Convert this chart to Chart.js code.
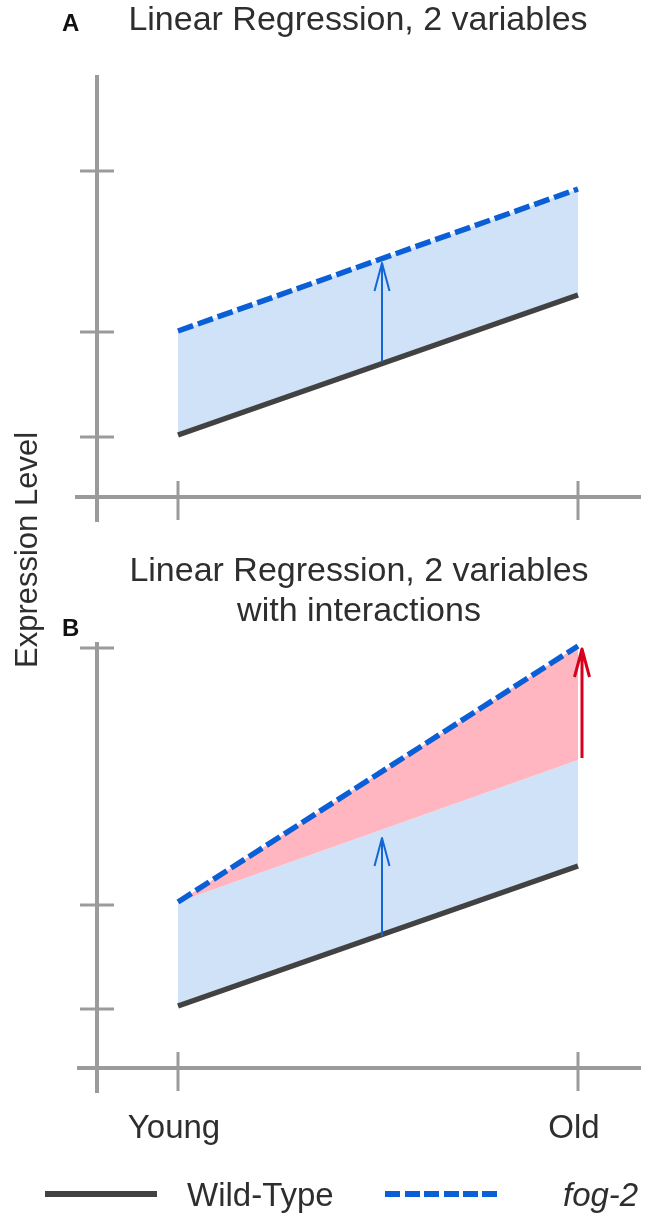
<!DOCTYPE html>
<html>
<head>
<meta charset="utf-8">
<script src="https://cdn.jsdelivr.net/npm/chart.js@4.4.1/dist/chart.umd.min.js"></script>
<style>
  body { margin: 0; background: #fff; }
  #page { position: relative; width: 662px; height: 1214px; overflow: hidden;
          font-family: "Liberation Sans", Arial, sans-serif; color: #2e2e2e; }
  #page canvas { position: absolute; left: 0; }
  .txt { position: absolute; line-height: 1; white-space: nowrap; }
  .panel { font-size: 24px; font-weight: bold; color: #111; }
  .legend-text { font-size: 33px; }
  .swatch { position: absolute; height: 6px; width: 112px; }
</style>
</head>
<body>
<div id="page">
  <canvas id="chartA" width="662" height="540" style="top:0"></canvas>
  <canvas id="chartB" width="662" height="674" style="top:540px"></canvas>

  <div class="txt panel" style="left:62px; top:11px">A</div>
  <div class="txt panel" style="left:62px; top:616px">B</div>
  <div class="txt" id="yLabel" style="left:26px; top:550px; font-size:31px; transform:translate(-50%,-50%) rotate(-90deg)">Expression Level</div>

  <div class="swatch" style="left:45px; top:1191px; background:#424242"></div>
  <div class="txt legend-text" style="left:187px; top:1178px">Wild-Type</div>
  <div class="swatch" style="left:385px; top:1191px; background:repeating-linear-gradient(90deg, #0a5fd7 0 15px, transparent 15px 19.5px)"></div>
  <div class="txt legend-text" style="left:563px; top:1178px; font-style:italic">fog-2</div>
</div>
<script>
// age on x (0 = young, 1 = old), expression on y
const ages = [0, 1];
const xTickValues = [0, 1];
const xTickLabels = ['Young', 'Old'];

const wildType = [1.55, 5.05];
const fog2Additive = [4.15, 7.7];      // panel A fog-2, and the additive part in B
const fog2Interaction = [4.15, 10.55]; // panel B fog-2

const yTicksA = [1.5, 4.125, 8.15];
const yTicksB = [1.475, 4.075, 10.5];

// arrows: x position, start value, end value
const arrowXA = [0.51];
const arrowFromA = [3.375];
const arrowToA = [5.85];
const arrowXB = [0.51, 1.01];
const arrowFromB = [3.3, 7.75];
const arrowToB = [5.75, 10.475];

const titleA = 'Linear Regression, 2 variables';
const titleB = ['Linear Regression, 2 variables', 'with interactions'];

const GRAY = '#9b9b9b';
const WT_COLOR = '#424242';
const FOG_COLOR = '#0a5fd7';
const BLUE_FILL = '#cfe2f8';
const PINK_FILL = '#ffb6c0';
const ARROW_BLUE = '#1466d6';
const ARROW_RED = '#d8001c';
const FONT = '"Liberation Sans", Arial, sans-serif';
const Y_AXIS_AT = -0.2025; // where the vertical axis crosses, in x units

function points(xs, ys) {
    return xs.map((x, i) => ({x: x, y: ys[i]}));
}

function crossAxes(yTicks, showLabels) {
    return {
        id: 'crossAxes',
        beforeDatasetsDraw(chart) {
            const {ctx, chartArea: a} = chart;
            const xs = chart.scales.x, ys = chart.scales.y;
            const ax = xs.getPixelForValue(Y_AXIS_AT);
            const ay = ys.getPixelForValue(0);
            ctx.save();
            ctx.strokeStyle = GRAY;
            ctx.lineWidth = 4;
            ctx.beginPath();
            ctx.moveTo(a.left, ay); ctx.lineTo(a.right, ay);
            ctx.moveTo(ax, a.top); ctx.lineTo(ax, a.bottom);
            ctx.stroke();
            ctx.lineWidth = 3;
            ctx.beginPath();
            yTicks.forEach(v => {
                const py = ys.getPixelForValue(v);
                ctx.moveTo(ax - 17, py); ctx.lineTo(ax + 17, py);
            });
            xTickValues.forEach(v => {
                const px = xs.getPixelForValue(v);
                ctx.moveTo(px, ay - 16); ctx.lineTo(px, ay + 23);
            });
            ctx.stroke();
            ctx.restore();
        },
        afterDraw(chart) {
            if (!showLabels) return;
            const {ctx} = chart;
            const xs = chart.scales.x, ys = chart.scales.y;
            const ay = ys.getPixelForValue(0);
            ctx.save();
            ctx.fillStyle = '#2e2e2e';
            ctx.font = '33px ' + FONT;
            ctx.textAlign = 'center';
            ctx.textBaseline = 'alphabetic';
            xTickValues.forEach((v, i) => {
                ctx.fillText(xTickLabels[i], xs.getPixelForValue(v) - 4, ay + 70);
            });
            ctx.restore();
        }
    };
}

function arrows(xsList, fromList, toList, colors, widths) {
    return {
        id: 'arrows',
        afterDatasetsDraw(chart) {
            const {ctx} = chart;
            const xs = chart.scales.x, ys = chart.scales.y;
            xsList.forEach((xv, i) => {
                const px = xs.getPixelForValue(xv);
                const p0 = ys.getPixelForValue(fromList[i]);
                const p1 = ys.getPixelForValue(toList[i]);
                ctx.save();
                ctx.strokeStyle = colors[i];
                ctx.lineWidth = widths[i];
                ctx.lineJoin = 'round';
                ctx.beginPath();
                ctx.moveTo(px, p0); ctx.lineTo(px, p1);
                ctx.moveTo(px - 7.5, p1 + 28); ctx.lineTo(px, p1); ctx.lineTo(px + 7.5, p1 + 28);
                ctx.stroke();
                ctx.restore();
            });
        }
    };
}

function panel(id, cfg) {
    return new Chart(document.getElementById(id), {
        type: 'line',
        data: { datasets: cfg.datasets },
        options: {
            responsive: false,
            animation: false,
            events: [],
            layout: { padding: cfg.padding },
            elements: { point: { radius: 0 }, line: { tension: 0, borderCapStyle: 'butt' } },
            scales: {
                x: { type: 'linear', display: false, min: cfg.xMin, max: 1.1575 },
                y: { type: 'linear', display: false, min: -0.625, max: cfg.yMax }
            },
            plugins: {
                legend: { display: false },
                tooltip: { enabled: false },
                title: {
                    display: true,
                    text: cfg.title,
                    color: '#2e2e2e',
                    font: { family: FONT, size: 34, weight: 'normal', lineHeight: cfg.lineHeight },
                    padding: cfg.titlePadding
                }
            }
        },
        plugins: cfg.plugins
    });
}

// order: higher numbers are drawn first (underneath)
panel('chartA', {
    title: titleA,
    lineHeight: 1.2,
    titlePadding: { top: 0, bottom: 34.2 },
    padding: { left: 75, right: 21, top: 0, bottom: 18 },
    xMin: -0.2575,
    yMax: 10.55,
    datasets: [
        { label: 'Wild-Type', data: points(ages, wildType), borderColor: WT_COLOR, borderWidth: 5.5, fill: false, order: 0 },
        { label: 'fog-2', data: points(ages, fog2Additive), borderColor: FOG_COLOR, borderWidth: 5.5,
          borderDash: [16, 5], fill: '-1', backgroundColor: BLUE_FILL, order: 1 }
    ],
    plugins: [crossAxes(yTicksA, false), arrows(arrowXA, arrowFromA, arrowToA, [ARROW_BLUE], [2])]
});

panel('chartB', {
    title: titleB,
    lineHeight: 40 / 34,
    titlePadding: { top: 12, bottom: 10 },
    padding: { left: 77, right: 21, top: 0, bottom: 121 },
    xMin: -0.2525,
    yMax: 10.65,
    datasets: [
        { label: 'Wild-Type', data: points(ages, wildType), borderColor: WT_COLOR, borderWidth: 5.5, fill: false, order: 1 },
        { label: 'additive', data: points(ages, fog2Additive), borderColor: 'rgba(0,0,0,0)', borderWidth: 0,
          fill: '-1', backgroundColor: BLUE_FILL, order: 2 },
        { label: 'fog-2', data: points(ages, fog2Interaction), borderColor: FOG_COLOR, borderWidth: 5.5,
          borderDash: [16, 5], fill: '-1', backgroundColor: PINK_FILL, order: 0 }
    ],
    plugins: [crossAxes(yTicksB, true),
              arrows(arrowXB, arrowFromB, arrowToB, [ARROW_BLUE, ARROW_RED], [2, 3])]
});
</script>
</body>
</html>
